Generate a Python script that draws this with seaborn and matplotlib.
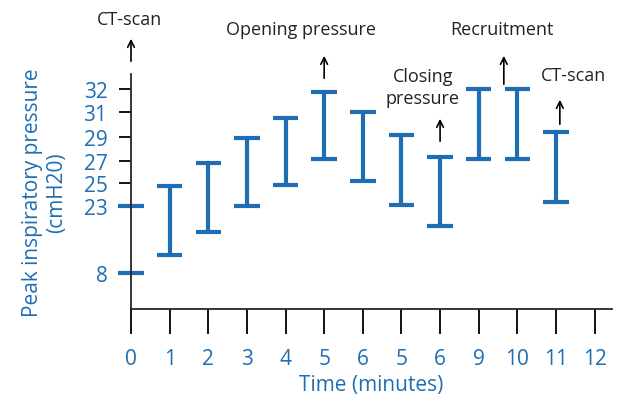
import numpy as np
import seaborn as sns
import matplotlib.pyplot as plt

x_pos = [0, 1, 2, 3, 4, 5, 6, 7, 8, 9, 10, 11]
low = [8, 12, 17.2, 22.9, 24.8, 27.1, 25.2, 23.1, 18.5, 27.1, 27.1, 23.3]
high = [23, 24.7, 26.8, 28.9, 30.5, 31.9, 31, 29.1, 27.3, 32, 32, 29.4]
x_labels = ["0", "1", "2", "3", "4", "5", "6", "5", "6", "9", "10", "11", "12"]
y_ticks = [8, 23, 25, 27, 29, 31, 32]

# uneven axis in the original: piecewise mapping
anchor_v = np.array([0, 8, 23, 25, 27, 29, 31, 32, 40])
anchor_p = np.array([93.2, 129, 196, 219, 241, 265, 290, 312, 488])

def fwd(v):
    return np.interp(v, anchor_v, anchor_p)

def inv(p):
    return np.interp(p, anchor_p, anchor_v)

sns.set_theme(style="ticks")
plt.rcParams['font.family'] = ['Open Sans', 'DejaVu Sans']
blue = "#1f6db3"

fig = plt.figure(figsize=(6.42, 4.02), dpi=100)
ax = fig.add_axes([131/642, 92/402, (612-131)/642, (310-75)/402])
ax.set_yscale('function', functions=(fwd, inv))
ax.set_ylim(-0.25, 32.7)
ax.set_xlim(0, 12.45)

cap = 0.33
for x, lo, hi in zip(x_pos, low, high):
    if x > 0:
        ax.vlines(x, lo, hi, color=blue, lw=3, clip_on=False)
    ax.hlines([lo, hi], x - cap, x + cap, color=blue, lw=3, clip_on=False)

ax.set_yticks(y_ticks)
ax.set_yticklabels([str(v) for v in y_ticks])
ax.set_xticks(range(13))
ax.set_xticklabels(x_labels)
ax.tick_params(axis='x', length=18, width=1.3, colors='black', labelcolor=blue, labelsize=15, pad=10)
ax.tick_params(axis='y', length=9, width=1.3, colors='black', labelcolor=blue, labelsize=15, pad=8)
for s in ['top', 'right']:
    ax.spines[s].set_visible(False)
for s in ['left', 'bottom']:
    ax.spines[s].set_linewidth(1.3)

ax.set_xlabel("Time (minutes)", color=blue, fontsize=15, labelpad=4)
ax.set_ylabel("Peak inspiratory pressure\n(cmH20)", color=blue, fontsize=15, labelpad=12)

# annotations: (x, text, text_y_px, arrow_bottom_px, arrow_top_px, text_x)
notes = [
    (0, "CT-scan", 20, 65, 37, -0.05),
    (5, "Opening pressure", 30, 82, 54, 4.4),
    (8, "Closing\npressure", 88, 145, 117, 7.55),
    (9.65, "Recruitment", 30, 88, 54, 9.6),
    (11.1, "CT-scan", 76, 128, 98, 11.45),
]
for x, txt, ty, y0, y1, tx in notes:
    ax.annotate("", xy=(x, 1 - y1/402), xytext=(x, 1 - y0/402),
                xycoords=('data', 'figure fraction'), textcoords=('data', 'figure fraction'),
                arrowprops=dict(arrowstyle='->', color='black', lw=1.2), annotation_clip=False)
    ax.annotate(txt, xy=(tx, 1 - ty/402), xycoords=('data', 'figure fraction'),
                ha='center', va='center', fontsize=13, color='#222222',
                linespacing=1.3, annotation_clip=False)

fig.savefig("out.png", dpi=100)
